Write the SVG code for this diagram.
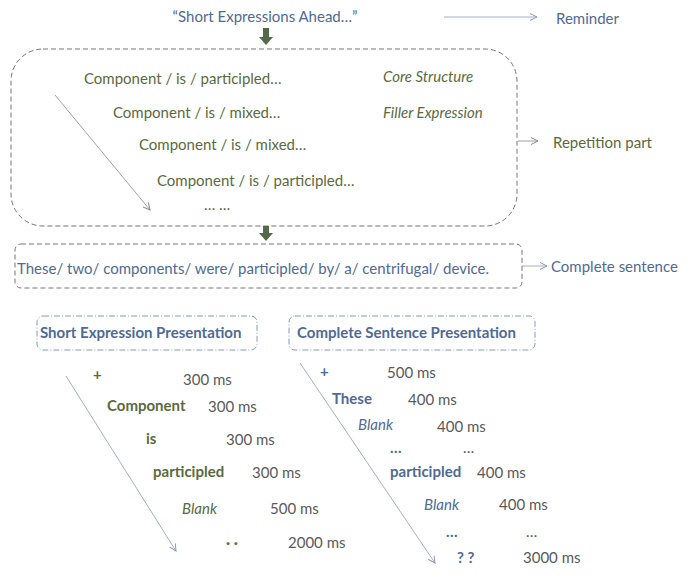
<svg xmlns="http://www.w3.org/2000/svg" width="700" height="575" viewBox="0 0 700 575">
<defs>
<marker id="ah" markerWidth="8" markerHeight="8" refX="7" refY="4" orient="auto" markerUnits="userSpaceOnUse"><path d="M0,0.5 L7,4 L0,7.5" fill="none" stroke="#8a9ab8" stroke-width="1"/></marker>
<marker id="ag" markerWidth="8" markerHeight="8" refX="7" refY="4" orient="auto" markerUnits="userSpaceOnUse"><path d="M0,0.5 L7,4 L0,7.5" fill="none" stroke="#888" stroke-width="1"/></marker>
</defs>
<style>
text{font-family:Lato,"Open Sans",sans-serif;font-size:15px}
.b{fill:#4f6a96}.g{fill:#5b6a3e}.k{fill:#5a5a5a}
.bd{font-weight:bold}.it{font-style:italic}
.dash{fill:none;stroke:#777;stroke-width:1;stroke-dasharray:5,3}
.dd{fill:none;stroke:#8a9ab8;stroke-width:1;stroke-dasharray:6,2,1,2}
.ln{fill:none;stroke:#8a9ab8;stroke-width:0.8}
.lg{fill:none;stroke:#888;stroke-width:0.8}
.blk{fill:#53694a}
</style>
<g id="reminder"><text x="265" y="22" text-anchor="middle" class="b">“Short Expressions Ahead…”</text><text x="556" y="24" class="b" font-size="16">Reminder</text></g>
<g id="repetition">
<rect x="11" y="49" width="506" height="177" rx="32" class="dash"/>
<text x="84" y="84" class="g">Component / is / participled…</text>
<text x="113" y="118" class="g">Component / is / mixed…</text>
<text x="139" y="150" class="g">Component / is / mixed…</text>
<text x="157" y="186" class="g">Component / is / participled…</text>
<text x="204" y="210" class="g" font-size="12">… …</text>
<text x="383" y="82" class="g it" font-size="14">Core Structure</text>
<text x="383" y="118" class="g it" font-size="14">Filler Expression</text>
<text x="553" y="148" class="g">Repetition part</text>
</g>
<g id="sentence">
<rect x="15" y="244" width="507" height="44" rx="6" class="dash"/>
<text x="17" y="274" class="b">These/ two/ components/ were/ participled/ by/ a/ centrifugal/ device.</text>
<text x="551" y="272" class="b">Complete sentence</text>
</g>
<g id="shortpres">
<rect x="37" y="316" width="220" height="34" rx="6" class="dd"/>
<text x="40" y="338" class="b bd" font-size="14.5">Short Expression Presentation</text>
<text x="93" y="380" class="g bd" font-size="18">+</text><text x="183" y="385" class="k">300 ms</text>
<text x="107" y="411" class="g bd">Component</text><text x="208" y="412" class="k">300 ms</text>
<text x="146" y="444" class="g bd">is</text><text x="226" y="445" class="k">300 ms</text>
<text x="153" y="477" class="g bd">participled</text><text x="252" y="478" class="k">300 ms</text>
<text x="182" y="514" class="g it">Blank</text><text x="270" y="514" class="k">500 ms</text>
<text x="226" y="548" class="g bd">· ·</text><text x="288" y="548" class="k">2000 ms</text>
</g>
<g id="completepres">
<rect x="289" y="316" width="246" height="34" rx="6" class="dd"/>
<text x="297" y="338" class="b bd" font-size="14.5">Complete Sentence Presentation</text>
<text x="320" y="377" class="b bd" font-size="18">+</text><text x="387" y="378" class="k">500 ms</text>
<text x="332" y="404" class="b bd">These</text><text x="408" y="405" class="k">400 ms</text>
<text x="358" y="430" class="b it">Blank</text><text x="437" y="432" class="k">400 ms</text>
<text x="390" y="453" class="b bd" font-size="11">…</text><text x="463" y="453" class="k" font-size="11">…</text>
<text x="390" y="477" class="b bd">participled</text><text x="477" y="478" class="k">400 ms</text>
<text x="424" y="510" class="b it">Blank</text><text x="499" y="510" class="k">400 ms</text>
<text x="446" y="537" class="b bd" font-size="11">…</text><text x="526" y="537" class="k" font-size="11">…</text>
<text x="457" y="563" class="b bd">? ?</text><text x="523" y="563" class="k">3000 ms</text>
</g>
<g id="connectors">
<line x1="444" y1="17" x2="537" y2="17" class="ln" marker-end="url(#ah)"/>
<path d="M263,28 h6 v9 h4 l-7,8 l-7,-8 h4 z" class="blk"/>
<path d="M263,226 h6 v7 h4 l-7,8 l-7,-8 h4 z" class="blk"/>
<line x1="55" y1="95" x2="150" y2="210" class="lg" marker-end="url(#ag)"/>
<line x1="518" y1="141" x2="538" y2="141" class="lg" marker-end="url(#ag)"/>
<line x1="522" y1="266" x2="547" y2="266" class="ln" marker-end="url(#ah)"/>
<line x1="66" y1="376" x2="176" y2="551" class="ln" marker-end="url(#ah)"/>
<line x1="300" y1="363" x2="435" y2="563" class="ln" marker-end="url(#ah)"/>
</g>
</svg>
